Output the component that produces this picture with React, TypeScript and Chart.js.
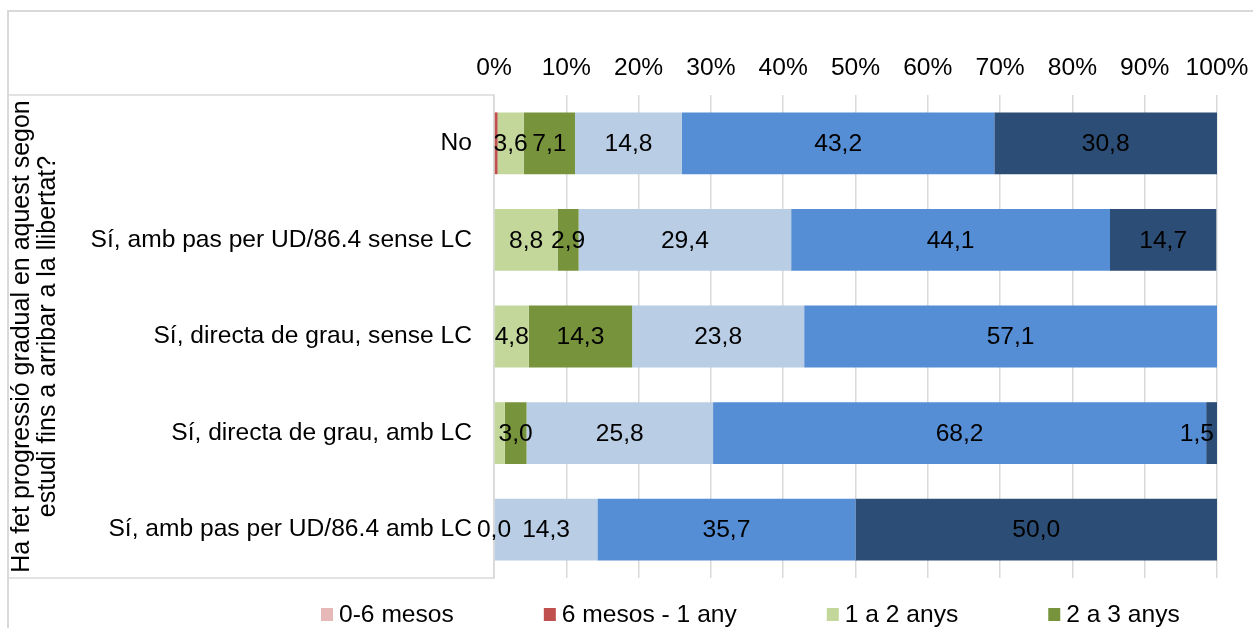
import React, { useEffect, useRef } from "react";
import { Chart, registerables } from "chart.js";

Chart.register(...registerables);

// ---------- data ----------
const categories = [
  "No",
  "Sí, amb pas per UD/86.4 sense LC",
  "Sí, directa de grau, sense LC",
  "Sí, directa de grau, amb LC",
  "Sí, amb pas per UD/86.4 amb LC",
];

const seriesNames = [
  "0-6 mesos",
  "6 mesos - 1 any",
  "1 a 2 anys",
  "2 a 3 anys",
  "3 a 5 anys",
  "5 a 10 anys",
  "Més de 10 anys",
];

const s0to6m: (number | null)[] = [null, null, null, null, null];
const s6mto1y: (number | null)[] = [0.5, null, null, null, null];
const s1to2y: (number | null)[] = [3.6, 8.8, 4.8, 1.5, null];
const s2to3y: (number | null)[] = [7.1, 2.9, 14.3, 3.0, 0.0];
const s3to5y: (number | null)[] = [14.8, 29.4, 23.8, 25.8, 14.3];
const s5to10y: (number | null)[] = [43.2, 44.1, 57.1, 68.2, 35.7];
const sOver10y: (number | null)[] = [30.8, 14.7, null, 1.5, 50.0];

const seriesColors = [
  "#E6B9B8",
  "#C0504D",
  "#C4D79B",
  "#77933C",
  "#B9CDE5",
  "#558ED5",
  "#2C4D75",
];

const xTickValues = [0, 10, 20, 30, 40, 50, 60, 70, 80, 90, 100];

// labels that are not shown in the original: [seriesIndex, categoryIndex]
const hiddenLabels: [number, number][] = [
  [1, 0],
  [2, 3],
];

const axisTitleLines = [
  "Ha fet progressió gradual en aquest segon",
  "estudi fins a arribar a la llibertat?",
];

// ---------- styling ----------
const FONT = "'Liberation Sans', Arial, sans-serif";
const FS = 24.6;
const GRID = "#d9d9d9";

const fmt = (v: number) => v.toFixed(1).replace(".", ",");

const labelBoxPlugin = {
  id: "labelBox",
  beforeDatasetsDraw(chart: any) {
    const { ctx, chartArea } = chart;
    ctx.save();
    ctx.strokeStyle = GRID;
    ctx.lineWidth = 1.5;
    ctx.beginPath();
    ctx.moveTo(0, chartArea.top);
    ctx.lineTo(chartArea.left, chartArea.top);
    ctx.lineTo(chartArea.left, chartArea.bottom);
    ctx.lineTo(0, chartArea.bottom);
    ctx.stroke();
    ctx.restore();
  },
};

const dataLabelPlugin = {
  id: "dataLabels",
  afterDatasetsDraw(chart: any) {
    const { ctx, chartArea } = chart;
    ctx.save();
    ctx.font = `${FS}px ${FONT}`;
    ctx.fillStyle = "#000";
    ctx.textAlign = "center";
    ctx.textBaseline = "middle";
    chart.data.datasets.forEach((ds: any, i: number) => {
      const meta = chart.getDatasetMeta(i);
      meta.data.forEach((el: any, j: number) => {
        const v = ds.data[j];
        if (v === null || v === undefined) return;
        if (hiddenLabels.some(([a, b]) => a === i && b === j)) return;
        const txt = fmt(v);
        const w = ctx.measureText(txt).width;
        let cx = (el.x + el.base) / 2;
        if (cx + w / 2 > chartArea.right - 3) cx = chartArea.right - 3 - w / 2;
        ctx.fillText(txt, cx, el.y + 1);
      });
    });
    ctx.restore();
  },
};

const LEGEND_START_X = 312;
const LEGEND_GAP = 90;
const legendPlugin = {
  id: "customLegend",
  afterDraw(chart: any) {
    const { ctx, chartArea } = chart;
    const cy = chartArea.bottom + 36.5;
    ctx.save();
    ctx.font = `${FS}px ${FONT}`;
    ctx.textBaseline = "middle";
    ctx.textAlign = "left";
    let x = LEGEND_START_X;
    chart.data.datasets.forEach((ds: any) => {
      ctx.fillStyle = ds.backgroundColor;
      ctx.fillRect(x, cy - 6.5, 12, 13);
      ctx.fillStyle = "#000";
      const tx = x + 12 + 6;
      ctx.fillText(ds.label, tx, cy + 1);
      x = tx + ctx.measureText(ds.label).width + LEGEND_GAP;
    });
    ctx.restore();
  },
};

export default function App() {
  const ref = useRef<HTMLCanvasElement | null>(null);

  useEffect(() => {
    if (!ref.current) return;
    const seriesData = [s0to6m, s6mto1y, s1to2y, s2to3y, s3to5y, s5to10y, sOver10y];
    const chart = new Chart(ref.current, {
      type: "bar",
      data: {
        labels: categories,
        datasets: seriesNames.map((name, i) => ({
          label: name,
          data: seriesData[i] as any,
          backgroundColor: seriesColors[i],
          borderWidth: 0,
          categoryPercentage: 1,
          barPercentage: 0.64,
        })),
      },
      options: {
        indexAxis: "y",
        responsive: false,
        animation: false,
        devicePixelRatio: 1,
        layout: { padding: { left: 0, right: 36, top: 0, bottom: 50 } },
        plugins: {
          legend: { display: false },
          tooltip: { enabled: false },
        },
        scales: {
          x: {
            type: "linear",
            position: "top",
            stacked: true,
            min: 0,
            max: 100,
            afterBuildTicks: (scale: any) => {
              scale.ticks = xTickValues.map((v) => ({ value: v }));
            },
            afterFit: (scale: any) => {
              scale.height = 83;
              scale.paddingRight = 0;
              scale.paddingLeft = 0;
            },
            ticks: {
              callback: (v: any) => `${v}%`,
              font: { family: FONT, size: FS },
              color: "#000",
              padding: 12,
              maxRotation: 0,
              autoSkip: false,
            },
            grid: { color: GRID, lineWidth: 1.5, drawTicks: false },
            border: { display: false },
          },
          y: {
            type: "category",
            stacked: true,
            afterFit: (scale: any) => {
              scale.width = 485;
            },
            ticks: {
              font: { family: FONT, size: FS },
              color: "#000",
              padding: 22,
              crossAlign: "near",
            },
            grid: { display: false, drawTicks: false },
            border: { display: false },
            title: {
              display: true,
              text: axisTitleLines,
              font: { family: FONT, size: 25, lineHeight: 1.05 },
              color: "#000",
              padding: { top: 0, bottom: 0 },
            },
          },
        },
      },
      plugins: [labelBoxPlugin, dataLabelPlugin, legendPlugin],
    });
    return () => chart.destroy();
  }, []);

  return (
    <div
      style={{
        position: "fixed",
        left: 0,
        top: 0,
        width: 1253,
        height: 628,
        overflow: "hidden",
        background: "#fff",
      }}
    >
      <div
        style={{
          position: "absolute",
          left: 7,
          top: 10,
          width: 1246,
          height: 618,
          boxSizing: "border-box",
          borderTop: `2px solid ${GRID}`,
          borderLeft: `2px solid ${GRID}`,
        }}
      >
        <canvas
          ref={ref}
          width={1244}
          height={616}
          style={{ display: "block", width: 1244, height: 616 }}
        />
      </div>
    </div>
  );
}
